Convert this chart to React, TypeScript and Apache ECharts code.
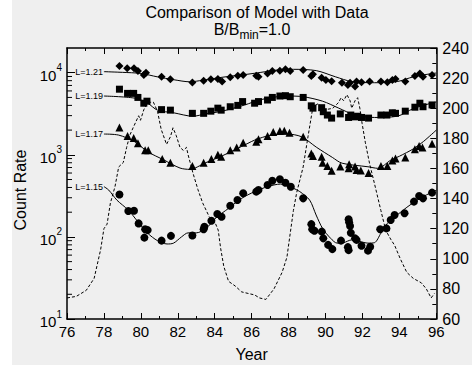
import React, { useEffect, useRef } from "react";
import * as echarts from "echarts";

const FONT = "'Liberation Sans', Arial, Helvetica, sans-serif";

const X_MIN = 76;
const X_MAX = 96;
const LEFT_MIN = 10;
const LEFT_MAX = 20000;
const RIGHT_MIN = 60;
const RIGHT_MAX = 240;
const LOG_MINOR = [20, 30, 40, 50, 60, 70, 80, 90, 200, 300, 400, 500, 600, 700, 800, 900, 2000, 3000, 4000, 5000, 6000, 7000, 8000, 9000];

// L=1.21 (diamonds)
const d121Year = [78.84, 79.26, 79.63, 79.84, 80.16, 80.28, 81.12, 81.6, 82.79, 83.4, 83.79, 84.17, 84.4, 84.84, 85.25, 85.54, 86.25, 86.37, 86.86, 87.12, 87.53, 87.83, 88.09, 88.79, 89.23, 89.32, 89.79, 90.02, 90.33, 90.89, 91.21, 91.33, 91.6, 91.68, 91.95, 92.39, 93.0, 93.35, 93.62, 93.79, 94.32, 94.84, 95.11, 95.28, 95.77];
const d121Count = [12100, 11300, 11300, 10500, 9400, 10000, 8900, 8300, 7600, 8000, 8300, 8400, 7800, 8800, 9200, 9400, 9200, 8900, 9800, 10500, 10600, 11000, 10500, 10800, 9100, 9550, 8700, 8150, 7850, 7550, 7100, 7550, 6800, 7800, 7650, 7800, 7800, 7650, 8150, 8400, 7800, 9100, 9800, 8900, 9400];
const m121Year = [78.0, 79.0, 80.0, 80.9, 81.8, 82.65, 83.35, 84.4, 85.8, 86.5, 87.4, 88.26, 89.5, 90.55, 91.42, 92.65, 93.88, 94.75, 95.8, 96.0];
const m121Count = [10300, 10100, 9800, 8900, 8200, 7750, 8100, 8800, 9600, 10100, 10800, 11000, 10600, 8900, 7800, 7550, 7800, 8900, 9800, 9900];

// L=1.19 (squares)
const d119Year = [78.84, 79.28, 79.61, 79.84, 80.16, 80.33, 81.12, 81.6, 82.79, 83.4, 83.79, 84.17, 84.35, 84.84, 85.25, 85.51, 86.16, 86.37, 86.86, 87.12, 87.53, 87.83, 88.09, 88.79, 89.23, 89.32, 89.79, 89.88, 90.1, 90.33, 90.8, 91.25, 91.37, 91.6, 91.74, 91.95, 92.33, 93.0, 93.32, 93.62, 93.79, 94.32, 94.84, 95.11, 95.28, 95.77];
const d119Count = [6300, 5600, 5600, 5000, 4250, 4500, 3550, 3500, 3200, 3200, 3400, 3700, 3500, 3850, 4000, 4450, 4250, 4450, 4650, 5000, 5200, 5250, 5100, 5000, 3950, 3700, 3750, 3350, 3050, 2800, 3150, 2850, 3050, 2900, 2950, 2850, 2800, 3050, 3050, 3250, 3200, 3400, 3800, 4250, 3850, 4050];
const m119Year = [78.0, 79.67, 80.37, 80.9, 81.77, 82.82, 83.5, 84.4, 85.63, 86.5, 87.9, 88.79, 89.84, 90.72, 91.6, 92.65, 93.88, 94.75, 95.8, 96.0];
const m119Count = [5200, 4900, 4250, 3500, 3250, 2950, 3150, 3400, 4050, 4700, 5200, 5100, 4500, 3700, 3050, 2850, 2950, 3650, 4300, 4400];

// L=1.17 (triangles)
const d117Year = [78.84, 79.28, 79.61, 79.84, 80.23, 80.4, 81.16, 81.6, 82.79, 83.4, 83.82, 84.17, 84.35, 84.84, 85.19, 85.54, 86.25, 86.37, 86.86, 87.17, 87.53, 87.77, 88.05, 88.79, 89.23, 89.32, 89.79, 89.84, 90.1, 90.33, 90.8, 91.25, 91.28, 91.6, 91.68, 91.91, 92.33, 93.0, 93.35, 93.62, 93.79, 94.32, 94.84, 95.07, 95.25, 95.77];
const d117Count = [2150, 1700, 1600, 1380, 1140, 1140, 890, 800, 730, 800, 890, 1000, 950, 1140, 1230, 1400, 1440, 1550, 1700, 1900, 1950, 1970, 1860, 1660, 1040, 970, 950, 800, 730, 640, 720, 685, 770, 720, 655, 645, 600, 730, 730, 850, 900, 930, 1170, 1280, 1230, 1360];
const m117Year = [78.0, 78.79, 79.67, 80.37, 81.25, 82.12, 82.65, 83.5, 84.4, 85.8, 86.16, 87.04, 87.9, 88.7, 89.5, 90.37, 90.9, 92.3, 92.83, 93.53, 94.0, 94.75, 95.3, 96.0];
const m117Count = [1790, 1740, 1440, 1090, 865, 690, 665, 800, 970, 1380, 1510, 1740, 1790, 1660, 1240, 930, 790, 715, 685, 860, 960, 1180, 1450, 2000];

// L=1.15 (circles)
const d115Year = [78.84, 79.32, 79.63, 79.88, 80.19, 80.23, 80.37, 81.12, 81.63, 82.79, 83.4, 83.44, 83.82, 84.14, 84.37, 84.84, 85.23, 85.54, 86.25, 86.37, 86.86, 87.12, 87.53, 87.83, 88.12, 88.79, 89.23, 89.28, 89.4, 89.8, 89.88, 90.14, 90.37, 90.84, 91.21, 91.25, 91.25, 91.28, 91.33, 91.37, 91.6, 91.68, 91.95, 92.3, 92.42, 92.96, 93.3, 93.53, 93.74, 94.28, 94.79, 95.07, 95.28, 95.77];
const d115Count = [328, 207, 208, 146, 98, 124, 121, 90, 103, 104, 124, 133, 157, 190, 176, 240, 281, 340, 356, 373, 429, 484, 503, 457, 409, 295, 143, 124, 119, 116, 96, 80, 71, 90, 75, 69, 164, 151, 136, 112, 96, 92, 78, 68, 76, 124, 127, 161, 185, 194, 269, 315, 295, 346];
const m115Year = [78.0, 78.26, 78.7, 79.32, 79.84, 80.37, 80.9, 81.42, 81.77, 82.2, 82.56, 83.0, 83.53, 84.05, 84.75, 85.46, 86.16, 86.86, 87.56, 88.26, 88.61, 89.14, 89.49, 89.84, 90.28, 90.63, 90.98, 91.42, 91.86, 92.3, 92.65, 93.0, 93.35, 93.88, 94.58, 95.28, 96.0];
const m115Count = [410, 372, 281, 212, 153, 111, 90, 82, 84, 100, 112, 112, 127, 169, 223, 295, 356, 409, 440, 391, 356, 281, 185, 127, 96, 84, 85, 92, 88, 84, 85, 111, 146, 185, 245, 309, 370];

// dashed curve (right axis)
const fluxYear = [76.0, 76.5, 77.04, 77.47, 77.82, 78.0, 78.17, 78.35, 78.6, 78.8, 79.05, 79.23, 79.4, 79.58, 79.88, 79.98, 80.16, 80.33, 80.54, 80.68, 80.9, 81.1, 81.39, 81.6, 81.74, 81.91, 82.12, 82.3, 82.47, 82.56, 82.82, 83.09, 83.35, 83.7, 84.02, 84.19, 84.32, 84.49, 84.75, 85.1, 85.46, 85.8, 86.16, 86.42, 86.77, 87.21, 87.65, 87.91, 88.09, 88.26, 88.44, 88.79, 89.05, 89.32, 89.6, 90.0, 90.4, 90.72, 90.84, 90.98, 91.16, 91.33, 91.42, 91.6, 91.74, 91.86, 91.98, 92.16, 92.39, 92.65, 93.0, 93.26, 93.53, 93.74, 94.05, 94.4, 94.75, 95.19, 95.46, 95.72, 95.9];
const fluxValue = [74, 75, 79, 87, 106, 120, 123, 137, 148, 161, 164, 174, 182, 187, 195, 192, 199, 203, 204, 204, 198, 186, 176, 181, 187, 182, 174, 172, 174, 169, 157, 146, 137, 128, 124, 119, 107, 95, 85, 82, 78, 77, 76, 74, 73, 80, 91, 101, 117, 132, 144, 161, 181, 201, 203, 199, 200, 204, 207, 205, 209, 205, 200, 205, 207, 200, 190, 177, 163, 150, 132, 119, 113, 109, 100, 91, 87, 84, 80, 74, 77];

const zip = (xs: number[], ys: number[]) => xs.map((x, i) => [x, ys[i]]);

function modelSeries(xs: number[], ys: number[], label: string) {
  const data: any[] = xs.map((x, i) =>
    i === 0
      ? {
          value: [x, ys[i]],
          label: {
            show: true,
            position: "left",
            distance: 1,
            formatter: label,
            fontSize: 9,
            fontFamily: FONT,
            color: "#000",
          },
        }
      : [x, ys[i]]
  );
  return {
    type: "line",
    data,
    xAxisIndex: 0,
    yAxisIndex: 0,
    symbol: "circle",
    symbolSize: 0,
    showSymbol: true,
    smooth: 0.3,
    silent: true,
    lineStyle: { color: "#000", width: 1 },
    itemStyle: { color: "#000" },
    z: 3,
  };
}

function markerSeries(xs: number[], ys: number[], symbol: string, size: number) {
  return {
    type: "scatter",
    data: zip(xs, ys),
    xAxisIndex: 0,
    yAxisIndex: 0,
    symbol,
    symbolSize: size,
    silent: true,
    itemStyle: { color: "#000", opacity: 1 },
    z: 4,
  };
}

export default function App() {
  const ref = useRef<HTMLDivElement>(null);
  useEffect(() => {
    const chart = echarts.init(ref.current!, undefined, { renderer: "svg" });
    const axisLineStyle = { color: "#000", width: 1.5 };
    const option: any = {
      animation: false,
      backgroundColor: "#ffffff",
      graphic: [
        {
          type: "rect",
          z: -10,
          shape: { x: 12, y: 0, width: 460, height: 365 },
          style: { fill: "#efefef" },
          silent: true,
        },
        {
          type: "text",
          x: 257,
          y: 12,
          style: {
            text: "Comparison of Model with Data",
            fontSize: 16,
            fontFamily: FONT,
            fill: "#000",
            align: "center",
            verticalAlign: "middle",
          },
        },
        {
          type: "text",
          x: 252,
          y: 31,
          style: {
            text: "{a|B/B}{s|min}{a|=1.0}",
            fontFamily: FONT,
            fill: "#000",
            align: "center",
            verticalAlign: "middle",
            rich: {
              a: { fontSize: 16, fontFamily: FONT, lineHeight: 20, verticalAlign: "top" },
              s: { fontSize: 12, fontFamily: FONT, lineHeight: 20, verticalAlign: "bottom" },
            },
          },
        },
      ],
      grid: { left: 67, right: 25, top: 48, bottom: 48, containLabel: false },
      xAxis: [
        {
          type: "value",
          min: X_MIN,
          max: X_MAX,
          interval: 2,
          position: "bottom",
          name: "Year",
          nameLocation: "middle",
          nameGap: 27,
          nameTextStyle: { fontSize: 16, fontFamily: FONT, color: "#000" },
          axisLine: { show: true, onZero: false, lineStyle: axisLineStyle },
          axisTick: { show: true, inside: true, length: 6, lineStyle: { color: "#000", width: 1 } },
          minorTick: { show: true, splitNumber: 2, length: 3, lineStyle: { color: "#000", width: 1 } },
          axisLabel: { fontSize: 15, fontFamily: FONT, color: "#000", margin: 5 },
          splitLine: { show: false },
        },
        {
          type: "value",
          min: X_MIN,
          max: X_MAX,
          interval: 2,
          position: "top",
          axisLine: { show: true, onZero: false, lineStyle: axisLineStyle },
          axisTick: { show: true, inside: true, length: 6, lineStyle: { color: "#000", width: 1 } },
          minorTick: { show: true, splitNumber: 2, length: 3, lineStyle: { color: "#000", width: 1 } },
          axisLabel: { show: false },
          splitLine: { show: false },
        },
      ],
      yAxis: [
        {
          type: "log",
          logBase: 10,
          min: LEFT_MIN,
          max: LEFT_MAX,
          position: "left",
          name: "Count Rate",
          nameLocation: "middle",
          nameGap: 26,
          nameTextStyle: { fontSize: 16, fontFamily: FONT, color: "#000", padding: [0, 13, 0, 0] },
          axisLine: { show: true, onZero: false, lineStyle: axisLineStyle },
          axisTick: { show: true, inside: true, length: 8, lineStyle: { color: "#000", width: 1 } },
          axisLabel: {
            showMaxLabel: false,
            margin: 5,
            color: "#000",
            formatter: (v: number) => {
              const e = Math.log10(v);
              if (Math.abs(e - Math.round(e)) > 1e-6) return "";
              return "{b|10}{e|" + Math.round(e) + "}";
            },
            rich: {
              b: { fontSize: 15, fontFamily: FONT, color: "#000", lineHeight: 20, verticalAlign: "bottom" },
              e: { fontSize: 10, fontFamily: FONT, color: "#000", lineHeight: 20, verticalAlign: "top" },
            },
          },
          splitLine: { show: false },
        },
        {
          type: "value",
          min: RIGHT_MIN,
          max: RIGHT_MAX,
          interval: 20,
          position: "right",
          axisLine: { show: true, onZero: false, lineStyle: axisLineStyle },
          axisTick: { show: true, inside: true, length: 6, lineStyle: { color: "#000", width: 1 } },
          minorTick: { show: true, splitNumber: 2, length: 4, lineStyle: { color: "#000", width: 1 } },
          axisLabel: { fontSize: 16, fontFamily: FONT, color: "#000", margin: 6 },
          splitLine: { show: false },
        },
      ],
      series: [
        {
          type: "custom",
          xAxisIndex: 0,
          yAxisIndex: 0,
          silent: true,
          clip: false,
          data: LOG_MINOR.map((v) => [X_MIN, v]),
          renderItem: (_p: any, api: any) => {
            const pt = api.coord([api.value(0), api.value(1)]);
            return {
              type: "line",
              shape: { x1: pt[0], y1: pt[1], x2: pt[0] + 5, y2: pt[1] },
              style: { stroke: "#000", lineWidth: 1 },
            };
          },
          z: 5,
        },
        {
          type: "line",
          data: zip(fluxYear, fluxValue),
          xAxisIndex: 0,
          yAxisIndex: 1,
          showSymbol: false,
          symbol: "none",
          silent: true,
          lineStyle: { color: "#000", width: 1, type: [3, 2] },
          z: 2,
        },
        modelSeries(m121Year, m121Count, "L=1.21"),
        modelSeries(m119Year, m119Count, "L=1.19"),
        modelSeries(m117Year, m117Count, "L=1.17"),
        modelSeries(m115Year, m115Count, "L=1.15"),
        markerSeries(d121Year, d121Count, "diamond", 8),
        markerSeries(d119Year, d119Count, "rect", 7),
        markerSeries(d117Year, d117Count, "triangle", 8),
        markerSeries(d115Year, d115Count, "circle", 8),
      ],
    };
    chart.setOption(option);
    return () => chart.dispose();
  }, []);
  return (
    <div
      ref={ref}
      style={{ position: "absolute", left: 0, top: 0, width: 472, height: 367 }}
    />
  );
}
